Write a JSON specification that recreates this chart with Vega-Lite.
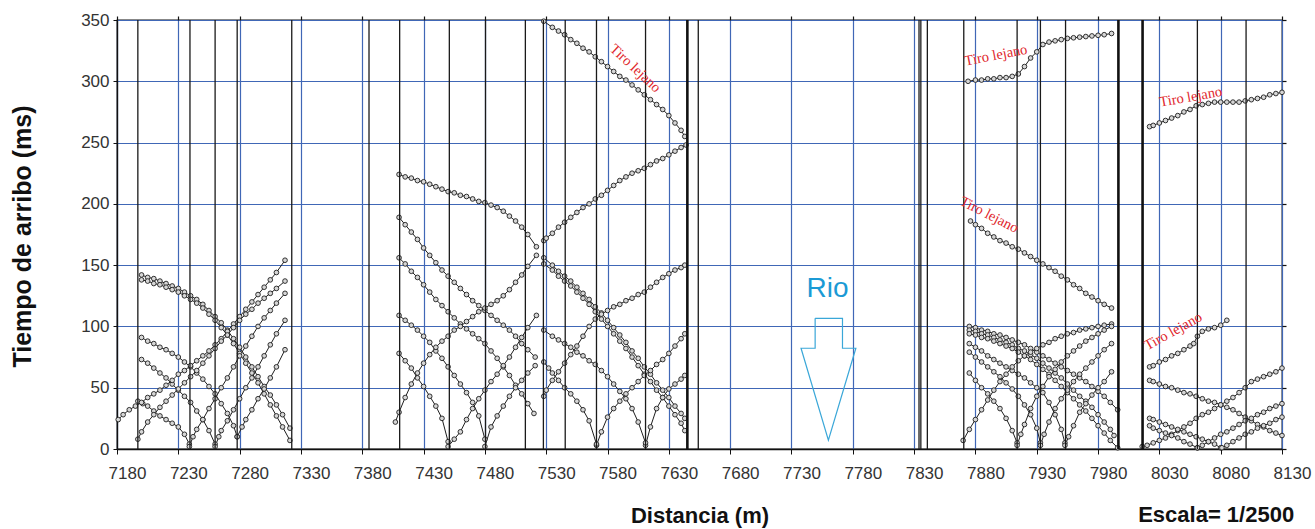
{
"$schema": "https://vega.github.io/schema/vega-lite/v6.json",
"width": 1165, "height": 429,
"autosize": {"type": "none"},
"padding": {"left": 117, "top": 20, "right": 33, "bottom": 80},
"background": "white",
"config": {"view": {"stroke": "#111", "strokeWidth": 1.3}, "font": "Liberation Sans"},
"resolve": {"axis": {"x": "independent", "y": "independent"}},
"datasets": {
"geo": [{"x":7197},{"x":7239.5},{"x":7260},{"x":7278},{"x":7322.5},{"x":7385.5},{"x":7410.5},{"x":7451},{"x":7480.5},{"x":7513},{"x":7527.7},{"x":7545.5},{"x":7571},{"x":7611},{"x":7654},{"x":7834},{"x":7835.5},{"x":7840.8},{"x":7870.5},{"x":7914},{"x":7933},{"x":7953.5},{"x":8061},{"x":8100.7}],
"geoT": [{"x":7645.1},{"x":7996.6},{"x":8016.3}],
"arrow": [{"o":1,"x":7749.3,"y":106.6},{"o":2,"x":7771.6,"y":106.6},{"o":3,"x":7771.6,"y":82.2},{"o":4,"x":7782.5,"y":82.2},{"o":5,"x":7760.1,"y":7.3},{"o":6,"x":7737.8,"y":82.2},{"o":7,"x":7749.3,"y":82.2},{"o":8,"x":7749.3,"y":106.6}],
"notes": [{"k":1,"t":"Tiro lejano","x":7602.4,"y":310.3},{"k":2,"t":"Tiro lejano","x":7896.8,"y":320.9},{"k":3,"t":"Tiro lejano","x":7891.1,"y":190.9},{"k":4,"t":"Tiro lejano","x":8055.6,"y":286.9},{"k":5,"t":"Tiro lejano","x":8041.4,"y":95.7}],
"rio": [{"t":"Rio","x":7759.4,"y":130.5}],
"escala": [{"t":"Escala= 1/2500","x":8076.3,"y":-53.8}],
"tt": [
{"c":"A","x":7200,"y":142},{"c":"A","x":7205,"y":140},{"c":"A","x":7210,"y":139},{"c":"A","x":7215,"y":137},{"c":"A","x":7220,"y":135},{"c":"A","x":7225,"y":133},{"c":"A","x":7230,"y":131},{"c":"A","x":7235,"y":128},{"c":"A","x":7240,"y":125},{"c":"A","x":7245,"y":122},{"c":"A","x":7250,"y":118},{"c":"A","x":7255,"y":113},{"c":"A","x":7260,"y":108},{"c":"A","x":7265,"y":103},{"c":"A","x":7270,"y":97},{"c":"A","x":7275,"y":90},{"c":"A","x":7280,"y":83},{"c":"A","x":7285,"y":75},{"c":"A","x":7290,"y":67},{"c":"A","x":7295,"y":59},{"c":"A","x":7300,"y":51},{"c":"A","x":7305,"y":44},{"c":"A","x":7310,"y":36},{"c":"A","x":7315,"y":28},{"c":"A","x":7321,"y":17},
{"c":"A2","x":7200,"y":138},{"c":"A2","x":7205,"y":137},{"c":"A2","x":7210,"y":135},{"c":"A2","x":7215,"y":134},{"c":"A2","x":7220,"y":132},{"c":"A2","x":7225,"y":130},{"c":"A2","x":7230,"y":128},{"c":"A2","x":7235,"y":125},{"c":"A2","x":7240,"y":122},{"c":"A2","x":7245,"y":119},{"c":"A2","x":7250,"y":115},{"c":"A2","x":7255,"y":110},{"c":"A2","x":7260,"y":105},{"c":"A2","x":7265,"y":99},{"c":"A2","x":7270,"y":93},{"c":"A2","x":7275,"y":86},{"c":"A2","x":7280,"y":78},{"c":"A2","x":7285,"y":70},{"c":"A2","x":7290,"y":62},{"c":"A2","x":7295,"y":54},{"c":"A2","x":7300,"y":45},{"c":"A2","x":7305,"y":36},{"c":"A2","x":7310,"y":27},{"c":"A2","x":7315,"y":18},{"c":"A2","x":7321,"y":7},
{"c":"B","x":7200,"y":91},{"c":"B","x":7205,"y":88},{"c":"B","x":7210,"y":86},{"c":"B","x":7215,"y":83},{"c":"B","x":7220,"y":81},{"c":"B","x":7225,"y":78},{"c":"B","x":7230,"y":75},{"c":"B","x":7235,"y":71},{"c":"B","x":7240,"y":67},{"c":"B","x":7245,"y":62},{"c":"B","x":7250,"y":57},{"c":"B","x":7255,"y":51},{"c":"B","x":7260,"y":45},{"c":"B","x":7265,"y":37},{"c":"B","x":7270,"y":29},{"c":"B","x":7275,"y":19},{"c":"B","x":7278,"y":10},
{"c":"D3","x":7200,"y":73},{"c":"D3","x":7205,"y":70},{"c":"D3","x":7210,"y":66},{"c":"D3","x":7215,"y":62},{"c":"D3","x":7220,"y":58},{"c":"D3","x":7225,"y":53},{"c":"D3","x":7230,"y":48},{"c":"D3","x":7235,"y":43},{"c":"D3","x":7240,"y":38},{"c":"D3","x":7245,"y":31},{"c":"D3","x":7250,"y":24},{"c":"D3","x":7255,"y":15},{"c":"D3","x":7260,"y":4},
{"c":"D4","x":7197,"y":39},{"c":"D4","x":7201,"y":37},{"c":"D4","x":7205,"y":35},{"c":"D4","x":7210,"y":31},{"c":"D4","x":7215,"y":27},{"c":"D4","x":7220,"y":24},{"c":"D4","x":7225,"y":21},{"c":"D4","x":7230,"y":18},{"c":"D4","x":7235,"y":12},{"c":"D4","x":7239,"y":4},
{"c":"I1","x":7181,"y":24},{"c":"I1","x":7185,"y":28},{"c":"I1","x":7190,"y":32},{"c":"I1","x":7195,"y":35},{"c":"I1","x":7200,"y":38},{"c":"I1","x":7205,"y":42},{"c":"I1","x":7210,"y":45},{"c":"I1","x":7215,"y":48},{"c":"I1","x":7220,"y":52},{"c":"I1","x":7225,"y":56},{"c":"I1","x":7230,"y":61},{"c":"I1","x":7235,"y":64},{"c":"I1","x":7240,"y":68},{"c":"I1","x":7245,"y":72},{"c":"I1","x":7250,"y":76},{"c":"I1","x":7255,"y":80},{"c":"I1","x":7260,"y":85},{"c":"I1","x":7265,"y":90},{"c":"I1","x":7270,"y":96},{"c":"I1","x":7275,"y":102},{"c":"I1","x":7280,"y":108},{"c":"I1","x":7285,"y":114},{"c":"I1","x":7290,"y":120},{"c":"I1","x":7295,"y":126},{"c":"I1","x":7300,"y":132},{"c":"I1","x":7305,"y":138},{"c":"I1","x":7310,"y":144},{"c":"I1","x":7317,"y":154},
{"c":"I2","x":7197,"y":8},{"c":"I2","x":7200,"y":14},{"c":"I2","x":7205,"y":22},{"c":"I2","x":7210,"y":28},{"c":"I2","x":7215,"y":34},{"c":"I2","x":7220,"y":39},{"c":"I2","x":7225,"y":44},{"c":"I2","x":7230,"y":49},{"c":"I2","x":7235,"y":54},{"c":"I2","x":7240,"y":59},{"c":"I2","x":7245,"y":64},{"c":"I2","x":7250,"y":70},{"c":"I2","x":7255,"y":76},{"c":"I2","x":7260,"y":82},{"c":"I2","x":7265,"y":88},{"c":"I2","x":7270,"y":93},{"c":"I2","x":7275,"y":99},{"c":"I2","x":7280,"y":105},{"c":"I2","x":7285,"y":110},{"c":"I2","x":7290,"y":114},{"c":"I2","x":7295,"y":119},{"c":"I2","x":7300,"y":123},{"c":"I2","x":7305,"y":127},{"c":"I2","x":7310,"y":131},{"c":"I2","x":7317,"y":137},
{"c":"I3","x":7239,"y":2},{"c":"I3","x":7242,"y":10},{"c":"I3","x":7245,"y":16},{"c":"I3","x":7250,"y":24},{"c":"I3","x":7255,"y":33},{"c":"I3","x":7260,"y":41},{"c":"I3","x":7265,"y":50},{"c":"I3","x":7270,"y":58},{"c":"I3","x":7275,"y":67},{"c":"I3","x":7280,"y":76},{"c":"I3","x":7285,"y":84},{"c":"I3","x":7290,"y":92},{"c":"I3","x":7295,"y":100},{"c":"I3","x":7300,"y":107},{"c":"I3","x":7305,"y":113},{"c":"I3","x":7310,"y":119},{"c":"I3","x":7317,"y":127},
{"c":"I4","x":7260,"y":2},{"c":"I4","x":7263,"y":10},{"c":"I4","x":7265,"y":15},{"c":"I4","x":7270,"y":23},{"c":"I4","x":7275,"y":32},{"c":"I4","x":7280,"y":41},{"c":"I4","x":7285,"y":50},{"c":"I4","x":7290,"y":58},{"c":"I4","x":7295,"y":67},{"c":"I4","x":7300,"y":76},{"c":"I4","x":7305,"y":85},{"c":"I4","x":7310,"y":94},{"c":"I4","x":7317,"y":105},
{"c":"I5","x":7278,"y":10},{"c":"I5","x":7282,"y":18},{"c":"I5","x":7285,"y":24},{"c":"I5","x":7290,"y":32},{"c":"I5","x":7295,"y":41},{"c":"I5","x":7300,"y":49},{"c":"I5","x":7305,"y":58},{"c":"I5","x":7310,"y":67},{"c":"I5","x":7317,"y":81},
{"c":"M1","x":7410,"y":224},{"c":"M1","x":7415,"y":222},{"c":"M1","x":7420,"y":221},{"c":"M1","x":7425,"y":219},{"c":"M1","x":7430,"y":218},{"c":"M1","x":7435,"y":216},{"c":"M1","x":7440,"y":214},{"c":"M1","x":7445,"y":212},{"c":"M1","x":7450,"y":210},{"c":"M1","x":7455,"y":209},{"c":"M1","x":7460,"y":207},{"c":"M1","x":7465,"y":206},{"c":"M1","x":7470,"y":204},{"c":"M1","x":7475,"y":202},{"c":"M1","x":7480,"y":201},{"c":"M1","x":7485,"y":199},{"c":"M1","x":7490,"y":197},{"c":"M1","x":7495,"y":194},{"c":"M1","x":7500,"y":190},{"c":"M1","x":7505,"y":186},{"c":"M1","x":7510,"y":181},{"c":"M1","x":7515,"y":175},{"c":"M1","x":7522,"y":165},
{"c":"M2","x":7410,"y":189},{"c":"M2","x":7415,"y":183},{"c":"M2","x":7420,"y":177},{"c":"M2","x":7425,"y":171},{"c":"M2","x":7430,"y":164},{"c":"M2","x":7435,"y":158},{"c":"M2","x":7440,"y":152},{"c":"M2","x":7445,"y":146},{"c":"M2","x":7450,"y":141},{"c":"M2","x":7455,"y":136},{"c":"M2","x":7460,"y":131},{"c":"M2","x":7465,"y":126},{"c":"M2","x":7470,"y":121},{"c":"M2","x":7475,"y":117},{"c":"M2","x":7480,"y":113},{"c":"M2","x":7485,"y":109},{"c":"M2","x":7490,"y":105},{"c":"M2","x":7495,"y":101},{"c":"M2","x":7500,"y":97},{"c":"M2","x":7505,"y":92},{"c":"M2","x":7510,"y":86},{"c":"M2","x":7515,"y":81},{"c":"M2","x":7521,"y":75},
{"c":"M3","x":7410,"y":156},{"c":"M3","x":7415,"y":151},{"c":"M3","x":7420,"y":145},{"c":"M3","x":7425,"y":140},{"c":"M3","x":7430,"y":134},{"c":"M3","x":7435,"y":128},{"c":"M3","x":7440,"y":122},{"c":"M3","x":7445,"y":117},{"c":"M3","x":7450,"y":112},{"c":"M3","x":7455,"y":107},{"c":"M3","x":7460,"y":102},{"c":"M3","x":7465,"y":98},{"c":"M3","x":7470,"y":94},{"c":"M3","x":7475,"y":90},{"c":"M3","x":7480,"y":86},{"c":"M3","x":7485,"y":80},{"c":"M3","x":7490,"y":74},{"c":"M3","x":7495,"y":67},{"c":"M3","x":7500,"y":60},{"c":"M3","x":7505,"y":52},{"c":"M3","x":7510,"y":45},{"c":"M3","x":7515,"y":37},{"c":"M3","x":7520,"y":29},
{"c":"Mc","x":7410,"y":109},{"c":"Mc","x":7415,"y":105},{"c":"Mc","x":7420,"y":101},{"c":"Mc","x":7425,"y":97},{"c":"Mc","x":7430,"y":92},{"c":"Mc","x":7435,"y":87},{"c":"Mc","x":7440,"y":80},{"c":"Mc","x":7445,"y":74},{"c":"Mc","x":7450,"y":67},{"c":"Mc","x":7455,"y":60},{"c":"Mc","x":7460,"y":53},{"c":"Mc","x":7465,"y":46},{"c":"Mc","x":7470,"y":38},{"c":"Mc","x":7475,"y":27},{"c":"Mc","x":7480,"y":8},
{"c":"Md","x":7410,"y":78},{"c":"Md","x":7415,"y":72},{"c":"Md","x":7420,"y":66},{"c":"Md","x":7425,"y":58},{"c":"Md","x":7430,"y":51},{"c":"Md","x":7435,"y":43},{"c":"Md","x":7440,"y":35},{"c":"Md","x":7445,"y":25},{"c":"Md","x":7450,"y":6},
{"c":"Me","x":7407,"y":22},{"c":"Me","x":7410,"y":30},{"c":"Me","x":7415,"y":42},{"c":"Me","x":7420,"y":53},{"c":"Me","x":7425,"y":62},{"c":"Me","x":7430,"y":70},{"c":"Me","x":7435,"y":77},{"c":"Me","x":7440,"y":83},{"c":"Me","x":7445,"y":88},{"c":"Me","x":7450,"y":92},{"c":"Me","x":7455,"y":97},{"c":"Me","x":7460,"y":100},{"c":"Me","x":7465,"y":104},{"c":"Me","x":7470,"y":108},{"c":"Me","x":7475,"y":112},{"c":"Me","x":7480,"y":115},{"c":"Me","x":7485,"y":118},{"c":"Me","x":7490,"y":121},{"c":"Me","x":7495,"y":125},{"c":"Me","x":7500,"y":130},{"c":"Me","x":7505,"y":136},{"c":"Me","x":7510,"y":142},{"c":"Me","x":7515,"y":149},{"c":"Me","x":7522,"y":158},
{"c":"Mf","x":7450,"y":2},{"c":"Mf","x":7455,"y":8},{"c":"Mf","x":7460,"y":14},{"c":"Mf","x":7465,"y":24},{"c":"Mf","x":7470,"y":33},{"c":"Mf","x":7475,"y":41},{"c":"Mf","x":7480,"y":48},{"c":"Mf","x":7485,"y":55},{"c":"Mf","x":7490,"y":61},{"c":"Mf","x":7495,"y":68},{"c":"Mf","x":7500,"y":75},{"c":"Mf","x":7505,"y":83},{"c":"Mf","x":7510,"y":91},{"c":"Mf","x":7515,"y":99},{"c":"Mf","x":7522,"y":109},
{"c":"Mg","x":7480,"y":2},{"c":"Mg","x":7485,"y":18},{"c":"Mg","x":7490,"y":27},{"c":"Mg","x":7495,"y":35},{"c":"Mg","x":7500,"y":43},{"c":"Mg","x":7505,"y":50},{"c":"Mg","x":7510,"y":56},{"c":"Mg","x":7515,"y":62},{"c":"Mg","x":7521,"y":68},
{"c":"N1","x":7528,"y":349},{"c":"N1","x":7535,"y":344},{"c":"N1","x":7540,"y":341},{"c":"N1","x":7545,"y":338},{"c":"N1","x":7550,"y":334},{"c":"N1","x":7555,"y":331},{"c":"N1","x":7560,"y":327},{"c":"N1","x":7565,"y":324},{"c":"N1","x":7570,"y":320},{"c":"N1","x":7575,"y":316},{"c":"N1","x":7580,"y":312},{"c":"N1","x":7585,"y":308},{"c":"N1","x":7590,"y":304},{"c":"N1","x":7595,"y":301},{"c":"N1","x":7600,"y":297},{"c":"N1","x":7605,"y":293},{"c":"N1","x":7610,"y":289},{"c":"N1","x":7615,"y":285},{"c":"N1","x":7620,"y":281},{"c":"N1","x":7625,"y":277},{"c":"N1","x":7630,"y":272},{"c":"N1","x":7635,"y":266},{"c":"N1","x":7640,"y":260},{"c":"N1","x":7643,"y":255},
{"c":"N2","x":7528,"y":170},{"c":"N2","x":7530,"y":172},{"c":"N2","x":7535,"y":176},{"c":"N2","x":7540,"y":181},{"c":"N2","x":7545,"y":185},{"c":"N2","x":7550,"y":189},{"c":"N2","x":7555,"y":193},{"c":"N2","x":7560,"y":197},{"c":"N2","x":7565,"y":200},{"c":"N2","x":7570,"y":204},{"c":"N2","x":7575,"y":207},{"c":"N2","x":7580,"y":211},{"c":"N2","x":7585,"y":215},{"c":"N2","x":7590,"y":219},{"c":"N2","x":7595,"y":222},{"c":"N2","x":7600,"y":225},{"c":"N2","x":7605,"y":227},{"c":"N2","x":7610,"y":229},{"c":"N2","x":7615,"y":232},{"c":"N2","x":7620,"y":235},{"c":"N2","x":7625,"y":237},{"c":"N2","x":7630,"y":240},{"c":"N2","x":7635,"y":243},{"c":"N2","x":7640,"y":246},{"c":"N2","x":7644,"y":248},
{"c":"P1","x":7528,"y":156},{"c":"P1","x":7535,"y":150},{"c":"P1","x":7540,"y":145},{"c":"P1","x":7545,"y":141},{"c":"P1","x":7550,"y":137},{"c":"P1","x":7555,"y":132},{"c":"P1","x":7560,"y":127},{"c":"P1","x":7565,"y":122},{"c":"P1","x":7570,"y":116},{"c":"P1","x":7575,"y":111},{"c":"P1","x":7580,"y":105},{"c":"P1","x":7585,"y":99},{"c":"P1","x":7590,"y":93},{"c":"P1","x":7595,"y":87},{"c":"P1","x":7600,"y":80},{"c":"P1","x":7605,"y":74},{"c":"P1","x":7610,"y":67},{"c":"P1","x":7615,"y":61},{"c":"P1","x":7620,"y":54},{"c":"P1","x":7625,"y":48},{"c":"P1","x":7630,"y":42},{"c":"P1","x":7635,"y":35},{"c":"P1","x":7640,"y":29},{"c":"P1","x":7643,"y":25},
{"c":"P2","x":7528,"y":151},{"c":"P2","x":7535,"y":146},{"c":"P2","x":7540,"y":141},{"c":"P2","x":7545,"y":137},{"c":"P2","x":7550,"y":133},{"c":"P2","x":7555,"y":128},{"c":"P2","x":7560,"y":123},{"c":"P2","x":7565,"y":118},{"c":"P2","x":7570,"y":112},{"c":"P2","x":7575,"y":106},{"c":"P2","x":7580,"y":100},{"c":"P2","x":7585,"y":94},{"c":"P2","x":7590,"y":88},{"c":"P2","x":7595,"y":82},{"c":"P2","x":7600,"y":75},{"c":"P2","x":7605,"y":68},{"c":"P2","x":7610,"y":61},{"c":"P2","x":7615,"y":55},{"c":"P2","x":7620,"y":48},{"c":"P2","x":7625,"y":42},{"c":"P2","x":7630,"y":35},{"c":"P2","x":7635,"y":28},{"c":"P2","x":7640,"y":21},{"c":"P2","x":7643,"y":15},
{"c":"Q1","x":7571,"y":3},{"c":"Q1","x":7575,"y":14},{"c":"Q1","x":7580,"y":26},{"c":"Q1","x":7585,"y":33},{"c":"Q1","x":7590,"y":39},{"c":"Q1","x":7595,"y":45},{"c":"Q1","x":7600,"y":50},{"c":"Q1","x":7605,"y":55},{"c":"Q1","x":7610,"y":60},{"c":"Q1","x":7615,"y":64},{"c":"Q1","x":7620,"y":69},{"c":"Q1","x":7625,"y":73},{"c":"Q1","x":7630,"y":78},{"c":"Q1","x":7635,"y":84},{"c":"Q1","x":7640,"y":90},{"c":"Q1","x":7643,"y":94},
{"c":"Q2","x":7611,"y":3},{"c":"Q2","x":7615,"y":18},{"c":"Q2","x":7620,"y":33},{"c":"Q2","x":7625,"y":42},{"c":"Q2","x":7630,"y":49},{"c":"Q2","x":7635,"y":53},{"c":"Q2","x":7640,"y":57},{"c":"Q2","x":7643,"y":60},
{"c":"Q3","x":7528,"y":43},{"c":"Q3","x":7530,"y":48},{"c":"Q3","x":7535,"y":56},{"c":"Q3","x":7540,"y":63},{"c":"Q3","x":7545,"y":70},{"c":"Q3","x":7550,"y":77},{"c":"Q3","x":7555,"y":84},{"c":"Q3","x":7560,"y":92},{"c":"Q3","x":7565,"y":100},{"c":"Q3","x":7570,"y":106},{"c":"Q3","x":7575,"y":110},{"c":"Q3","x":7580,"y":113},{"c":"Q3","x":7585,"y":116},{"c":"Q3","x":7590,"y":118},{"c":"Q3","x":7595,"y":121},{"c":"Q3","x":7600,"y":123},{"c":"Q3","x":7605,"y":126},{"c":"Q3","x":7610,"y":128},{"c":"Q3","x":7615,"y":132},{"c":"Q3","x":7620,"y":136},{"c":"Q3","x":7625,"y":140},{"c":"Q3","x":7630,"y":143},{"c":"Q3","x":7635,"y":146},{"c":"Q3","x":7640,"y":148},{"c":"Q3","x":7643,"y":150},
{"c":"Q4","x":7528,"y":97},{"c":"Q4","x":7535,"y":92},{"c":"Q4","x":7540,"y":89},{"c":"Q4","x":7545,"y":86},{"c":"Q4","x":7550,"y":83},{"c":"Q4","x":7555,"y":79},{"c":"Q4","x":7560,"y":76},{"c":"Q4","x":7565,"y":72},{"c":"Q4","x":7570,"y":69},{"c":"Q4","x":7575,"y":64},{"c":"Q4","x":7580,"y":59},{"c":"Q4","x":7585,"y":53},{"c":"Q4","x":7590,"y":47},{"c":"Q4","x":7595,"y":41},{"c":"Q4","x":7600,"y":33},{"c":"Q4","x":7605,"y":22},{"c":"Q4","x":7611,"y":5},
{"c":"Q5","x":7528,"y":71},{"c":"Q5","x":7532,"y":66},{"c":"Q5","x":7535,"y":62},{"c":"Q5","x":7540,"y":56},{"c":"Q5","x":7545,"y":50},{"c":"Q5","x":7550,"y":45},{"c":"Q5","x":7555,"y":39},{"c":"Q5","x":7560,"y":32},{"c":"Q5","x":7565,"y":23},{"c":"Q5","x":7571,"y":4},
{"c":"R1","x":7874,"y":300},{"c":"R1","x":7880,"y":301},{"c":"R1","x":7885,"y":301},{"c":"R1","x":7890,"y":302},{"c":"R1","x":7895,"y":302},{"c":"R1","x":7900,"y":303},{"c":"R1","x":7905,"y":303},{"c":"R1","x":7910,"y":304},{"c":"R1","x":7915,"y":306},{"c":"R1","x":7920,"y":312},{"c":"R1","x":7925,"y":319},{"c":"R1","x":7930,"y":324},{"c":"R1","x":7935,"y":330},{"c":"R1","x":7940,"y":332},{"c":"R1","x":7945,"y":333},{"c":"R1","x":7950,"y":334},{"c":"R1","x":7955,"y":335},{"c":"R1","x":7960,"y":335.5},{"c":"R1","x":7965,"y":336},{"c":"R1","x":7970,"y":336.5},{"c":"R1","x":7975,"y":337},{"c":"R1","x":7980,"y":337.5},{"c":"R1","x":7985,"y":338},{"c":"R1","x":7991,"y":339},
{"c":"R2","x":7876,"y":186},{"c":"R2","x":7880,"y":183},{"c":"R2","x":7885,"y":180},{"c":"R2","x":7890,"y":176},{"c":"R2","x":7895,"y":173},{"c":"R2","x":7900,"y":170},{"c":"R2","x":7905,"y":168},{"c":"R2","x":7910,"y":165},{"c":"R2","x":7915,"y":163},{"c":"R2","x":7920,"y":160},{"c":"R2","x":7925,"y":157},{"c":"R2","x":7930,"y":154},{"c":"R2","x":7935,"y":151},{"c":"R2","x":7940,"y":148},{"c":"R2","x":7945,"y":145},{"c":"R2","x":7950,"y":141},{"c":"R2","x":7955,"y":138},{"c":"R2","x":7960,"y":134},{"c":"R2","x":7965,"y":131},{"c":"R2","x":7970,"y":127},{"c":"R2","x":7975,"y":124},{"c":"R2","x":7980,"y":121},{"c":"R2","x":7985,"y":118},{"c":"R2","x":7991,"y":115},
{"c":"S1","x":7875,"y":62},{"c":"S1","x":7880,"y":56},{"c":"S1","x":7885,"y":50},{"c":"S1","x":7890,"y":45},{"c":"S1","x":7895,"y":39},{"c":"S1","x":7900,"y":33},{"c":"S1","x":7905,"y":25},{"c":"S1","x":7910,"y":15},{"c":"S1","x":7914,"y":5},
{"c":"S2","x":7875,"y":79},{"c":"S2","x":7880,"y":75},{"c":"S2","x":7885,"y":71},{"c":"S2","x":7890,"y":67},{"c":"S2","x":7895,"y":63},{"c":"S2","x":7900,"y":59},{"c":"S2","x":7905,"y":54},{"c":"S2","x":7910,"y":49},{"c":"S2","x":7915,"y":43},{"c":"S2","x":7920,"y":36},{"c":"S2","x":7925,"y":28},{"c":"S2","x":7930,"y":17},{"c":"S2","x":7933,"y":5},
{"c":"S3","x":7875,"y":86},{"c":"S3","x":7880,"y":83},{"c":"S3","x":7885,"y":80},{"c":"S3","x":7890,"y":76},{"c":"S3","x":7895,"y":73},{"c":"S3","x":7900,"y":70},{"c":"S3","x":7905,"y":67},{"c":"S3","x":7910,"y":64},{"c":"S3","x":7915,"y":61},{"c":"S3","x":7920,"y":58},{"c":"S3","x":7925,"y":54},{"c":"S3","x":7930,"y":50},{"c":"S3","x":7935,"y":46},{"c":"S3","x":7940,"y":38},{"c":"S3","x":7945,"y":28},{"c":"S3","x":7950,"y":16},{"c":"S3","x":7953,"y":5},
{"c":"T1","x":7875,"y":100},{"c":"T1","x":7880,"y":99},{"c":"T1","x":7885,"y":97},{"c":"T1","x":7890,"y":96},{"c":"T1","x":7895,"y":94},{"c":"T1","x":7900,"y":93},{"c":"T1","x":7905,"y":91},{"c":"T1","x":7910,"y":89},{"c":"T1","x":7915,"y":87},{"c":"T1","x":7920,"y":85},{"c":"T1","x":7925,"y":82},{"c":"T1","x":7930,"y":79},{"c":"T1","x":7935,"y":76},{"c":"T1","x":7940,"y":73},{"c":"T1","x":7945,"y":70},{"c":"T1","x":7950,"y":67},{"c":"T1","x":7955,"y":64},{"c":"T1","x":7960,"y":61},{"c":"T1","x":7965,"y":58},{"c":"T1","x":7970,"y":55},{"c":"T1","x":7975,"y":51},{"c":"T1","x":7980,"y":47},{"c":"T1","x":7985,"y":43},{"c":"T1","x":7990,"y":38},{"c":"T1","x":7996,"y":32},
{"c":"T2","x":7875,"y":97},{"c":"T2","x":7880,"y":96},{"c":"T2","x":7885,"y":94},{"c":"T2","x":7890,"y":93},{"c":"T2","x":7895,"y":91},{"c":"T2","x":7900,"y":89},{"c":"T2","x":7905,"y":87},{"c":"T2","x":7910,"y":85},{"c":"T2","x":7915,"y":82},{"c":"T2","x":7920,"y":80},{"c":"T2","x":7925,"y":77},{"c":"T2","x":7930,"y":74},{"c":"T2","x":7935,"y":70},{"c":"T2","x":7940,"y":66},{"c":"T2","x":7945,"y":62},{"c":"T2","x":7950,"y":58},{"c":"T2","x":7955,"y":53},{"c":"T2","x":7960,"y":48},{"c":"T2","x":7965,"y":43},{"c":"T2","x":7970,"y":39},{"c":"T2","x":7975,"y":34},{"c":"T2","x":7980,"y":28},{"c":"T2","x":7985,"y":22},{"c":"T2","x":7990,"y":16},{"c":"T2","x":7993,"y":11},
{"c":"T3","x":7875,"y":94},{"c":"T3","x":7880,"y":93},{"c":"T3","x":7885,"y":91},{"c":"T3","x":7890,"y":90},{"c":"T3","x":7895,"y":88},{"c":"T3","x":7900,"y":86},{"c":"T3","x":7905,"y":84},{"c":"T3","x":7910,"y":82},{"c":"T3","x":7915,"y":79},{"c":"T3","x":7920,"y":76},{"c":"T3","x":7925,"y":73},{"c":"T3","x":7930,"y":69},{"c":"T3","x":7935,"y":65},{"c":"T3","x":7940,"y":61},{"c":"T3","x":7945,"y":56},{"c":"T3","x":7950,"y":51},{"c":"T3","x":7955,"y":46},{"c":"T3","x":7960,"y":41},{"c":"T3","x":7965,"y":36},{"c":"T3","x":7970,"y":31},{"c":"T3","x":7975,"y":25},{"c":"T3","x":7980,"y":19},{"c":"T3","x":7985,"y":13},{"c":"T3","x":7990,"y":7},{"c":"T3","x":7996,"y":1},
{"c":"U1","x":7870,"y":7},{"c":"U1","x":7875,"y":16},{"c":"U1","x":7880,"y":24},{"c":"U1","x":7885,"y":32},{"c":"U1","x":7890,"y":40},{"c":"U1","x":7895,"y":48},{"c":"U1","x":7900,"y":55},{"c":"U1","x":7905,"y":61},{"c":"U1","x":7910,"y":67},{"c":"U1","x":7915,"y":72},{"c":"U1","x":7920,"y":76},{"c":"U1","x":7925,"y":79},{"c":"U1","x":7930,"y":82},{"c":"U1","x":7935,"y":85},{"c":"U1","x":7940,"y":87},{"c":"U1","x":7945,"y":90},{"c":"U1","x":7950,"y":92},{"c":"U1","x":7955,"y":94},{"c":"U1","x":7960,"y":95},{"c":"U1","x":7965,"y":97},{"c":"U1","x":7970,"y":98},{"c":"U1","x":7975,"y":99},{"c":"U1","x":7980,"y":100},{"c":"U1","x":7985,"y":101},{"c":"U1","x":7991,"y":102},
{"c":"U2","x":7914,"y":3},{"c":"U2","x":7917,"y":12},{"c":"U2","x":7920,"y":20},{"c":"U2","x":7925,"y":33},{"c":"U2","x":7930,"y":43},{"c":"U2","x":7935,"y":51},{"c":"U2","x":7940,"y":59},{"c":"U2","x":7945,"y":65},{"c":"U2","x":7950,"y":71},{"c":"U2","x":7955,"y":76},{"c":"U2","x":7960,"y":80},{"c":"U2","x":7965,"y":84},{"c":"U2","x":7970,"y":88},{"c":"U2","x":7975,"y":91},{"c":"U2","x":7980,"y":94},{"c":"U2","x":7985,"y":97},{"c":"U2","x":7991,"y":100},
{"c":"U3","x":7933,"y":3},{"c":"U3","x":7936,"y":12},{"c":"U3","x":7940,"y":22},{"c":"U3","x":7945,"y":33},{"c":"U3","x":7950,"y":41},{"c":"U3","x":7955,"y":48},{"c":"U3","x":7960,"y":55},{"c":"U3","x":7965,"y":61},{"c":"U3","x":7970,"y":66},{"c":"U3","x":7975,"y":71},{"c":"U3","x":7980,"y":76},{"c":"U3","x":7985,"y":81},{"c":"U3","x":7991,"y":86},
{"c":"U4","x":7953,"y":3},{"c":"U4","x":7956,"y":10},{"c":"U4","x":7960,"y":19},{"c":"U4","x":7965,"y":30},{"c":"U4","x":7970,"y":37},{"c":"U4","x":7975,"y":44},{"c":"U4","x":7980,"y":50},{"c":"U4","x":7985,"y":55},{"c":"U4","x":7991,"y":63},
{"c":"V1","x":8022,"y":263},{"c":"V1","x":8025,"y":264},{"c":"V1","x":8030,"y":266},{"c":"V1","x":8035,"y":268},{"c":"V1","x":8040,"y":270},{"c":"V1","x":8045,"y":272},{"c":"V1","x":8050,"y":275},{"c":"V1","x":8055,"y":277},{"c":"V1","x":8060,"y":280},{"c":"V1","x":8065,"y":281},{"c":"V1","x":8070,"y":282},{"c":"V1","x":8075,"y":283},{"c":"V1","x":8080,"y":283},{"c":"V1","x":8085,"y":283},{"c":"V1","x":8090,"y":283},{"c":"V1","x":8095,"y":283},{"c":"V1","x":8100,"y":284},{"c":"V1","x":8105,"y":285},{"c":"V1","x":8110,"y":286},{"c":"V1","x":8115,"y":287},{"c":"V1","x":8120,"y":289},{"c":"V1","x":8125,"y":290},{"c":"V1","x":8130,"y":291},
{"c":"V2","x":8022,"y":67},{"c":"V2","x":8025,"y":68},{"c":"V2","x":8030,"y":71},{"c":"V2","x":8035,"y":73},{"c":"V2","x":8040,"y":76},{"c":"V2","x":8045,"y":78},{"c":"V2","x":8050,"y":81},{"c":"V2","x":8055,"y":84},{"c":"V2","x":8058,"y":86},{"c":"V2","x":8061,"y":92},{"c":"V2","x":8065,"y":96},{"c":"V2","x":8070,"y":98},{"c":"V2","x":8075,"y":99},{"c":"V2","x":8080,"y":101},{"c":"V2","x":8085,"y":105},
{"c":"W1","x":8022,"y":56},{"c":"W1","x":8025,"y":55},{"c":"W1","x":8030,"y":53},{"c":"W1","x":8035,"y":51},{"c":"W1","x":8040,"y":50},{"c":"W1","x":8045,"y":48},{"c":"W1","x":8050,"y":46},{"c":"W1","x":8055,"y":45},{"c":"W1","x":8060,"y":43},{"c":"W1","x":8065,"y":41},{"c":"W1","x":8070,"y":39},{"c":"W1","x":8075,"y":38},{"c":"W1","x":8080,"y":36},{"c":"W1","x":8085,"y":34},{"c":"W1","x":8090,"y":32},{"c":"W1","x":8095,"y":29},{"c":"W1","x":8100,"y":26},{"c":"W1","x":8105,"y":23},{"c":"W1","x":8110,"y":20},{"c":"W1","x":8115,"y":18},{"c":"W1","x":8120,"y":15},{"c":"W1","x":8125,"y":13},{"c":"W1","x":8130,"y":11},
{"c":"W2","x":8016,"y":2},{"c":"W2","x":8020,"y":3},{"c":"W2","x":8025,"y":5},{"c":"W2","x":8030,"y":7},{"c":"W2","x":8035,"y":9},{"c":"W2","x":8040,"y":12},{"c":"W2","x":8045,"y":15},{"c":"W2","x":8050,"y":18},{"c":"W2","x":8055,"y":21},{"c":"W2","x":8060,"y":25},{"c":"W2","x":8065,"y":28},{"c":"W2","x":8070,"y":30},{"c":"W2","x":8075,"y":33},{"c":"W2","x":8080,"y":36},{"c":"W2","x":8085,"y":39},{"c":"W2","x":8090,"y":42},{"c":"W2","x":8095,"y":46},{"c":"W2","x":8100,"y":50},{"c":"W2","x":8105,"y":55},{"c":"W2","x":8110,"y":57},{"c":"W2","x":8115,"y":59},{"c":"W2","x":8120,"y":61},{"c":"W2","x":8125,"y":63},{"c":"W2","x":8130,"y":66},
{"c":"W3","x":8022,"y":25},{"c":"W3","x":8025,"y":24},{"c":"W3","x":8030,"y":22},{"c":"W3","x":8035,"y":20},{"c":"W3","x":8040,"y":18},{"c":"W3","x":8045,"y":16},{"c":"W3","x":8050,"y":14},{"c":"W3","x":8055,"y":12},{"c":"W3","x":8060,"y":10},{"c":"W3","x":8065,"y":8},{"c":"W3","x":8070,"y":6},{"c":"W3","x":8075,"y":4},{"c":"W3","x":8080,"y":1},
{"c":"W4","x":8022,"y":19},{"c":"W4","x":8025,"y":17},{"c":"W4","x":8030,"y":15},{"c":"W4","x":8035,"y":13},{"c":"W4","x":8040,"y":11},{"c":"W4","x":8045,"y":9},{"c":"W4","x":8050,"y":6},{"c":"W4","x":8055,"y":4},{"c":"W4","x":8061,"y":1},
{"c":"W5","x":8061,"y":1},{"c":"W5","x":8065,"y":3},{"c":"W5","x":8070,"y":6},{"c":"W5","x":8075,"y":9},{"c":"W5","x":8080,"y":12},{"c":"W5","x":8085,"y":14},{"c":"W5","x":8090,"y":17},{"c":"W5","x":8095,"y":20},{"c":"W5","x":8100,"y":23},{"c":"W5","x":8105,"y":25},{"c":"W5","x":8110,"y":28},{"c":"W5","x":8115,"y":30},{"c":"W5","x":8120,"y":33},{"c":"W5","x":8125,"y":35},{"c":"W5","x":8130,"y":37},
{"c":"W6","x":8081,"y":1},{"c":"W6","x":8085,"y":3},{"c":"W6","x":8090,"y":6},{"c":"W6","x":8095,"y":9},{"c":"W6","x":8100,"y":12},{"c":"W6","x":8105,"y":14},{"c":"W6","x":8110,"y":17},{"c":"W6","x":8115,"y":19},{"c":"W6","x":8120,"y":21},{"c":"W6","x":8125,"y":24},{"c":"W6","x":8130,"y":26}
]
},
"layer": [
{"data": {"name": "tt"},
 "mark": {"type": "line", "color": "#1e1e1e", "strokeWidth": 1, "clip": false,
  "point": {"filled": false, "fill": "#d6d6d6", "stroke": "#1e1e1e", "strokeWidth": 0.9, "size": 22, "opacity": 1}},
 "encoding": {
  "x": {"field": "x", "type": "quantitative", "scale": {"domain": [7180, 8130], "nice": false, "zero": false},
   "axis": {"values": [7180,7230,7280,7330,7380,7430,7480,7530,7580,7630,7680,7730,7780,7830,7880,7930,7980,8030,8080,8130],
    "grid": true, "gridColor": "#4067b6", "gridWidth": 1.2, "domainColor": "#111", "domainWidth": 1.3, "tickColor": "#111", "tickSize": 5,
    "labelFontSize": 17, "labelColor": "#333", "labelPadding": 11, "labelOffset": 10, "labelFlush": false, "labelOverlap": false, "labelBound": false,
    "title": "Distancia (m)", "titleFontSize": 22, "titleFontWeight": "bold", "titleColor": "#111", "titleY": 56, "titleBaseline": "top", "format": "d"}},
  "y": {"field": "y", "type": "quantitative", "scale": {"domain": [0, 350], "nice": false, "zero": false},
   "axis": {"values": [0,50,100,150,200,250,300,350],
    "grid": true, "gridColor": "#4067b6", "gridWidth": 1.2, "domainColor": "#111", "domainWidth": 1.3, "tickColor": "#111", "tickSize": 4,
    "labelFontSize": 17, "labelColor": "#333", "labelPadding": 4, "labelFlush": false, "labelOverlap": false, "labelBound": false,
    "title": "Tiempo de arribo (ms)", "titleFontSize": 25, "titleFontWeight": "bold", "titleColor": "#111",
    "titleX": -95, "titleY": 216, "titleAngle": -90, "titleAlign": "center", "titleBaseline": "middle"}},
  "detail": {"field": "c", "type": "nominal"}
 }},
{"data": {"name": "geo"}, "mark": {"type": "rule", "color": "#1a1a1a", "strokeWidth": 1.3},
 "encoding": {"x": {"field": "x", "type": "quantitative", "axis": null}}},
{"data": {"name": "geoT"}, "mark": {"type": "rule", "color": "#111", "strokeWidth": 2.6},
 "encoding": {"x": {"field": "x", "type": "quantitative",
   "axis": {"orient": "top", "values": [7180,7230,7280,7330,7380,7430,7480,7530,7580,7630,7680,7730,7780,7830,7880,7930,7980,8030,8080,8130],
    "labels": false, "grid": false, "domain": false, "ticks": true, "tickSize": 4, "tickColor": "#111", "tickWidth": 1.2, "title": null}}}},
{"data": {"name": "arrow"}, "mark": {"type": "line", "color": "#3aa7d8", "strokeWidth": 1.2},
 "encoding": {"x": {"field": "x", "type": "quantitative", "axis": null},
  "y": {"field": "y", "type": "quantitative",
   "axis": {"orient": "right", "values": [0,50,100,150,200,250,300,350], "labels": false, "grid": false, "domain": false, "ticks": true, "tickSize": 4, "tickColor": "#111", "tickWidth": 1.2, "title": null}},
  "order": {"field": "o", "type": "quantitative"}}},
{"data": {"name": "rio"}, "mark": {"type": "text", "color": "#1b9ad5", "fontSize": 28, "font": "Liberation Sans", "align": "center", "baseline": "middle"},
 "encoding": {"x": {"field": "x", "type": "quantitative", "axis": null}, "y": {"field": "y", "type": "quantitative", "axis": null}, "text": {"field": "t"}}},
{"data": {"name": "notes"}, "transform": [{"filter": "datum.k == 1"}], "mark": {"type": "text", "color": "#e0262c", "fontSize": 14.5, "font": "Liberation Serif", "align": "center", "baseline": "middle", "angle": 43},
 "encoding": {"x": {"field": "x", "type": "quantitative", "axis": null}, "y": {"field": "y", "type": "quantitative", "axis": null}, "text": {"field": "t"}}},
{"data": {"name": "notes"}, "transform": [{"filter": "datum.k == 2"}], "mark": {"type": "text", "color": "#e0262c", "fontSize": 14.5, "font": "Liberation Serif", "align": "center", "baseline": "middle", "angle": -11},
 "encoding": {"x": {"field": "x", "type": "quantitative", "axis": null}, "y": {"field": "y", "type": "quantitative", "axis": null}, "text": {"field": "t"}}},
{"data": {"name": "notes"}, "transform": [{"filter": "datum.k == 3"}], "mark": {"type": "text", "color": "#e0262c", "fontSize": 14.5, "font": "Liberation Serif", "align": "center", "baseline": "middle", "angle": 27},
 "encoding": {"x": {"field": "x", "type": "quantitative", "axis": null}, "y": {"field": "y", "type": "quantitative", "axis": null}, "text": {"field": "t"}}},
{"data": {"name": "notes"}, "transform": [{"filter": "datum.k == 4"}], "mark": {"type": "text", "color": "#e0262c", "fontSize": 14.5, "font": "Liberation Serif", "align": "center", "baseline": "middle", "angle": -10},
 "encoding": {"x": {"field": "x", "type": "quantitative", "axis": null}, "y": {"field": "y", "type": "quantitative", "axis": null}, "text": {"field": "t"}}},
{"data": {"name": "notes"}, "transform": [{"filter": "datum.k == 5"}], "mark": {"type": "text", "color": "#e0262c", "fontSize": 14.5, "font": "Liberation Serif", "align": "center", "baseline": "middle", "angle": -29},
 "encoding": {"x": {"field": "x", "type": "quantitative", "axis": null}, "y": {"field": "y", "type": "quantitative", "axis": null}, "text": {"field": "t"}}},
{"data": {"name": "escala"}, "mark": {"type": "text", "color": "#111", "fontSize": 22, "fontWeight": "bold", "font": "Liberation Sans", "align": "center", "baseline": "middle"},
 "encoding": {"x": {"field": "x", "type": "quantitative", "axis": null}, "y": {"field": "y", "type": "quantitative", "axis": null}, "text": {"field": "t"}}}
]
}
